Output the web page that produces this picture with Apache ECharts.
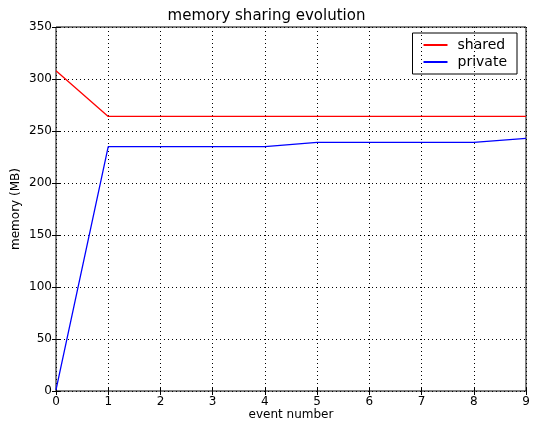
<!DOCTYPE html>
<html><head><meta charset="utf-8">
<script src="https://cdn.jsdelivr.net/npm/echarts@6/dist/echarts.min.js"></script>
<style>html,body{margin:0;padding:0;background:#fff}#c{width:533px;height:421px}</style>
</head><body><div id="c"></div>
<script>
const events = [0,1,2,3,4,5,6,7,8,9];
const shared = [308,264,264,264,264,264,264,264,264,264];
const privateMem = [1,235,235,235,235,239,239,239,239,243];
const yTicks = [0,50,100,150,200,250,300,350];

const font = 'DejaVu Sans';
const chart = echarts.init(document.getElementById('c'));
const tickStyle = {show:true, inside:true, length:4, lineStyle:{color:'#000'}};
chart.setOption({
  animation:false,
  backgroundColor:'#fff',
  title:{text:'memory sharing evolution', left:'center', top:4,
    textStyle:{fontFamily:font, fontSize:15, fontWeight:'normal', color:'#000'}},
  grid:{left:56, right:7, top:27, bottom:30, show:true, borderColor:'#000', borderWidth:1,
    containLabel:false, outerBoundsMode:'none'},
  legend:{orient:'vertical', right:16, top:33, borderColor:'#000', borderWidth:1,
    padding:[5,10,5,11], itemGap:3, itemWidth:24, itemHeight:2, icon:'rect',
    textStyle:{fontFamily:font, fontSize:14, color:'#000', padding:[0,0,0,5]},
    data:['shared','private']},
  xAxis:[{type:'value', min:0, max:9, interval:1, position:'bottom',
    name:'event number', nameLocation:'middle', nameGap:18, nameMoveOverlap:false,
    nameTextStyle:{fontFamily:font, fontSize:12, color:'#000'},
    axisLine:{show:false}, axisTick:tickStyle,
    axisLabel:{fontFamily:font, fontSize:12, color:'#000', margin:5},
    splitLine:{show:true, lineStyle:{color:'#000', type:[1,3], width:1}}},
   {type:'value', min:0, max:9, interval:1, position:'top',
    axisLine:{show:false}, axisTick:tickStyle, axisLabel:{show:false}, splitLine:{show:false}}],
  yAxis:[{type:'value', min:0, max:350, interval:50, position:'left',
    name:'memory (MB)', nameLocation:'middle', nameGap:34, nameMoveOverlap:false,
    nameTextStyle:{fontFamily:font, fontSize:12, color:'#000'},
    axisLine:{show:false}, axisTick:tickStyle,
    axisLabel:{fontFamily:font, fontSize:12, color:'#000', margin:4,
      formatter:v=>yTicks.includes(v)?String(v):''},
    splitLine:{show:true, lineStyle:{color:'#000', type:[1,3], width:1}}},
   {type:'value', min:0, max:350, interval:50, position:'right',
    axisLine:{show:false}, axisTick:tickStyle, axisLabel:{show:false}, splitLine:{show:false}}],
  series:[
    {name:'shared', type:'line', showSymbol:false, data:events.map((e,i)=>[e,shared[i]]),
     lineStyle:{color:'#ff0000', width:1.3}, itemStyle:{color:'#ff0000'}},
    {name:'private', type:'line', showSymbol:false, data:events.map((e,i)=>[e,privateMem[i]]),
     lineStyle:{color:'#0000ff', width:1.3}, itemStyle:{color:'#0000ff'}}
  ]
});
</script></body></html>
